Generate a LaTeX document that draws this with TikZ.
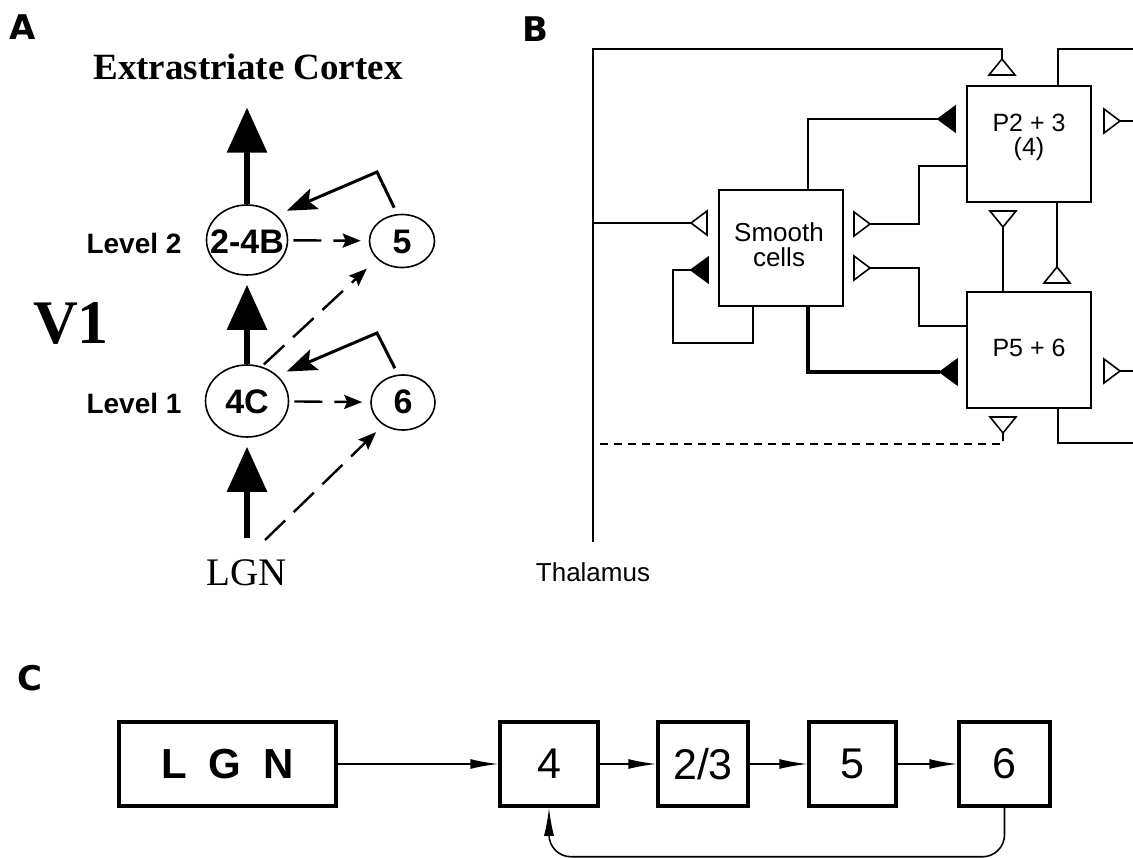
\documentclass[tikz,border=0pt]{standalone}
\usepackage{fontspec}
\setmainfont{Liberation Serif}
\setsansfont{Liberation Sans}
\newfontfamily\panelfont{DejaVu Sans}
\usetikzlibrary{arrows.meta,shapes.geometric}

\tikzset{
	panel/.style = {anchor = base west, inner sep = 0pt, font = \panelfont\bfseries\fontsize{34}{34}\selectfont},
	% panel A
	lay/.style = {draw, ellipse, line width = 1.6pt, inner sep = 0pt},
	laytxt/.style = {anchor = base, inner sep = 0pt, font = \sffamily\bfseries\fontsize{34}{34}\selectfont},
	lvl/.style = {anchor = base, inner sep = 0pt, font = \sffamily\bfseries\fontsize{28}{28}\selectfont},
	bigarr/.style = {line width = 6pt, -{Triangle[length = 45pt, width = 39pt]}},
	dasharr/.style = {line width = 2.4pt, dash pattern = on 28pt off 12pt, -{Stealth[length = 18pt, width = 14pt, inset = 3pt]}},
	fbarr/.style = {line width = 3pt, -{Stealth[length = 30pt, width = 22pt, inset = 6pt]}},
	% panel B
	pbox/.style = {draw, line width = 2pt, minimum width = 124pt, minimum height = 116pt, inner sep = 0pt},
	ptxt/.style = {anchor = base, inner sep = 0pt, font = \sffamily\fontsize{26}{26}\selectfont},
	wire/.style = {line width = 1.6pt},
	syn/.style = {draw, line width = 1.6pt, fill = white},
	synf/.style = {draw, line width = 1.6pt, fill = black},
	pics/synL/.style = {code = {\path[syn] (0,0) -- (16,-12) -- (16,12) -- cycle;}},
	pics/synLf/.style = {code = {\path[synf] (0,0) -- (17,-12.5) -- (17,12.5) -- cycle;}},
	pics/synR/.style = {code = {\path[syn] (0,0) -- (-16,-12) -- (-16,12) -- cycle;}},
	pics/synU/.style = {code = {\path[syn] (0,0) -- (-13,16) -- (13,16) -- cycle;}},
	pics/synD/.style = {code = {\path[syn] (0,0) -- (-13,-16) -- (13,-16) -- cycle;}},
	% panel C
	cbox/.style = {draw, line width = 3.5pt, minimum height = 84pt, inner sep = 0pt, font = \sffamily\fontsize{43}{43}\selectfont},
	carr/.style = {line width = 1.6pt, -{Latex[length = 28pt, width = 10pt]}},
}

\begin{document}
\begin{tikzpicture}[x = 1pt, y = -1pt]
	\useasboundingbox (0,0) rectangle (1133,859);

	% A
	\node [panel] (labA) at (9,40) {A};
	\node [anchor = base, inner sep = 0pt, font = \bfseries\fontsize{37}{37}\selectfont] (cortex) at (248,80) {Extrastriate Cortex};
	\node [anchor = base, inner sep = 0pt, font = \bfseries\fontsize{62}{62}\selectfont] (v1) at (71,343) {V1};
	\node [anchor = base, inner sep = 0pt, font = \fontsize{39}{39}\selectfont] (lgnA) at (247,585) {LGN};
	\node [lvl] (lvl2) at (134,253) {Level 2};
	\node [lvl] (lvl1) at (134,413) {Level 1};

	\node [lay, minimum width = 81pt, minimum height = 70pt] (l24b) at (247,240) {};
	\node [lay, minimum width = 65pt, minimum height = 53pt] (l5) at (402,241) {};
	\node [lay, minimum width = 83pt, minimum height = 72pt] (l4c) at (247,401) {};
	\node [lay, minimum width = 64pt, minimum height = 55pt] (l6) at (403,402.5) {};
	\node [laytxt] (t24b) at (247,253) {2-4B};
	\node [laytxt] (t5) at (402,253) {5};
	\node [laytxt] (t4c) at (247,413) {4C};
	\node [laytxt] (t6) at (403,413) {6};

	\coordinate (bend5) at (377,172);
	\coordinate (bend6) at (377,333);
	\coordinate (lgnfoot) at (265,540);

	\draw [bigarr, shorten >= 27pt] (l24b.north) -- (l24b.north |- cortex.south);
	\draw [bigarr, shorten >= 9pt] (l4c.north) -- (l24b.south);
	\draw [bigarr, shorten <= 21pt, shorten >= 9pt] (lgnA.north) -- (l4c.south);

	\draw [dasharr, shorten <= 5pt, shorten >= 8pt] (l24b) -- (l5);
	\draw [dasharr, shorten <= 5pt, shorten >= 8pt] (l4c) -- (l6);
	\draw [dasharr, shorten <= 3pt, shorten >= 14pt] (l4c.67) -- (l5.216);
	\draw [dasharr, shorten >= 10pt] (lgnfoot) -- (l6.229);

	\draw [fbarr, shorten <= 7pt, shorten >= 11pt] (l5.100) -- (bend5) -- (l24b.40);
	\draw [fbarr, shorten <= 7pt, shorten >= 10pt] (l6.100) -- (bend6) -- (l4c.40);

	% B
	\node [panel] (labB) at (522,42) {B};
	\node [pbox] (smooth) at (781,248) {};
	\node [pbox] (p23) at (1029,144) {};
	\node [pbox] (p56) at (1029,349.5) {};
	\node [ptxt, anchor = north, align = center, font = \sffamily\fontsize{26}{25}\selectfont] (smootht) at (779,222) {Smooth\\cells};
	\node [ptxt, anchor = north, align = center, font = \sffamily\fontsize{25}{24}\selectfont] (p23t) at (1029,114) {P2 + 3\\(4)};
	\node [ptxt, font = \sffamily\fontsize{25}{25}\selectfont] (p56t) at (1029,356) {P5 + 6};
	\node [ptxt] (thal) at (593,581) {Thalamus};

	\draw [wire] (1002,59) -- (1002,49) -- (593,49) -- (593,542);
	\draw [wire] (593,223) -- (691,223);
	\draw [wire] (1058,0 |- p23.north) -- (1058,49) -- (1133,49);
	\draw [wire] (1120,121) -- (1133,121);
	\draw [wire] (938,119) -- (808,119) -- (808,0 |- smooth.north);
	\draw [wire] (p23.west |- 0,166) -- (919,166) -- (919,224) -- (870,224);
	\draw [wire] (870,268) -- (919,268) -- (919,326) -- (p56.west |- 0,326);
	\draw [wire] (691,270) -- (673,270) -- (673,343) -- (753,343) -- (753,0 |- smooth.south);
	\draw [line width = 3.2pt] (808,0 |- smooth.south) -- (808,372) -- (940,372);
	\draw [wire] (1003,227) -- (1003,0 |- p56.north);
	\draw [wire] (1057,0 |- p23.south) -- (1057,267);
	\draw [wire, dash pattern = on 8pt off 6pt] (1003,433) -- (1003,444) -- (593,444);
	\draw [wire] (1120,371) -- (1133,371);
	\draw [wire] (1058,0 |- p56.south) -- (1058,443) -- (1133,443);

	\pic at (1002,59) {synU};
	\pic at (691,223) {synL};
	\pic at (1120,121) {synR};
	\pic at (938,119) {synLf};
	\pic at (870,224) {synR};
	\pic at (870,268) {synR};
	\pic at (691,270) {synLf};
	\pic at (940,372) {synLf};
	\pic at (1003,227) {synD};
	\pic at (1057,267) {synU};
	\pic at (1003,433) {synD};
	\pic at (1120,371) {synR};

	% C
	\node [panel] (labC) at (17,690) {C};
	\node [cbox, minimum width = 217pt, font = \sffamily\bfseries\fontsize{42}{42}\selectfont] (clgn) at (227.5,764) {L\hspace{10pt} G\hspace{10pt} N};
	\node [cbox, minimum width = 98pt] (c4) at (549,764) {4};
	\node [cbox, minimum width = 90pt] (c23) at (703,764) {2/3};
	\node [cbox, minimum width = 87pt] (c5) at (852.5,764) {5};
	\node [cbox, minimum width = 91pt] (c6) at (1004.5,764) {6};

	\draw [carr] (clgn) -- (c4);
	\draw [carr] (c4) -- (c23);
	\draw [carr] (c23) -- (c5);
	\draw [carr] (c5) -- (c6);
	\draw [carr, rounded corners = 22pt] (c6.south) -- ++(0,49) -| (c4.south);
\end{tikzpicture}
\end{document}
